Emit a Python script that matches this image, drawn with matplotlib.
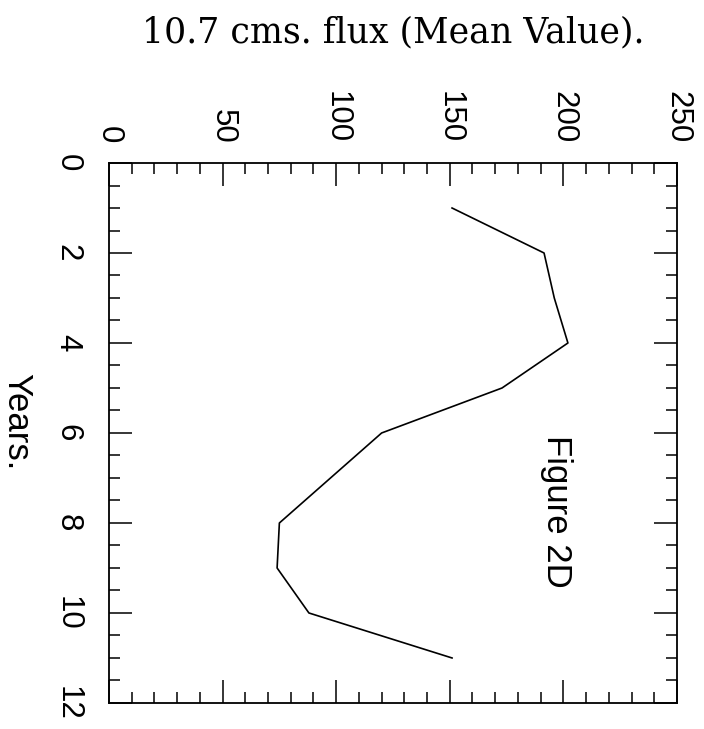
import numpy as np
import matplotlib
matplotlib.use('Agg')
import matplotlib.pyplot as plt
from matplotlib.ticker import MultipleLocator

# mean 10.7 cm flux per year of the cycle
years = [1, 2, 3, 4, 5, 6, 7, 8, 9, 10, 11]
flux = [151, 191.5, 196, 202, 173, 120, 97.5, 75, 74, 88, 151]

plt.rcParams['font.family'] = ['Liberation Sans', 'DejaVu Sans']

fig = plt.figure(figsize=(7.04, 7.29), dpi=100)
ax = fig.add_axes([0.1548, 0.0357, 0.8068, 0.7407])

ax.plot(flux, years, color='black', linewidth=1.2)

ax.set_xlim(0, 250)
ax.set_ylim(12, 0)  # years run downward

ax.xaxis.set_major_locator(MultipleLocator(50))
ax.xaxis.set_minor_locator(MultipleLocator(10))
ax.yaxis.set_major_locator(MultipleLocator(2))
ax.yaxis.set_minor_locator(MultipleLocator(0.5))

ax.tick_params(which='both', direction='in', top=True, bottom=True,
               left=True, right=True, width=1.1, color='black')
ax.tick_params(which='major', length=16.5)
ax.tick_params(which='minor', length=8)
ax.tick_params(axis='x', labeltop=True, labelbottom=False, pad=14,
               labelsize=22.5)
ax.tick_params(axis='y', pad=19, labelsize=22.5)

for lab in ax.get_xticklabels():
    lab.set_rotation(-90)
for lab in ax.get_yticklabels():
    lab.set_rotation(-90)
    lab.set_verticalalignment('center')

for sp in ax.spines.values():
    sp.set_linewidth(1.3)

ax.text(197, 7.75, 'Figure 2D', rotation=-90, ha='center', va='center',
        fontsize=25)

fig.text(0.024, 0.421, 'Years.', rotation=-90, ha='center', va='center',
         fontsize=25)

fig.text(0.559, 0.942, '10.7 cms. flux (Mean Value).', ha='center',
         va='baseline', fontsize=25, family='DejaVu Serif')

fig.savefig('out.png', dpi=100)
